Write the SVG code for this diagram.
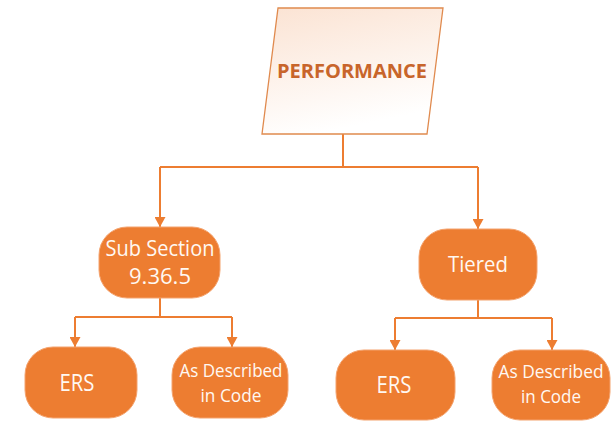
<svg xmlns="http://www.w3.org/2000/svg" width="616" height="421" viewBox="0 0 616 421">
  <style>
    .node { fill: #ED7D31; stroke: #F4A36E; stroke-width: 1; }
    .lbl { font-family: "Open Sans", "Liberation Sans", sans-serif; fill: #FFF8F2; text-anchor: middle; }
    .conn { fill: none; stroke: #ED7D31; stroke-width: 2; }
  </style>
  <defs>
    <linearGradient id="paper" x1="0" y1="0" x2="0.3" y2="1">
      <stop offset="0" stop-color="#FBE3D3"/>
      <stop offset="1" stop-color="#FFFFFF"/>
    </linearGradient>
    <marker id="arrow" viewBox="0 0 10 11" refX="10" refY="5.5" markerWidth="5" markerHeight="5.5" orient="auto" markerUnits="strokeWidth">
      <path d="M0,0 L10,5.5 L0,11 z" fill="#ED7D31"/>
    </marker>
  </defs>
  <rect width="616" height="421" fill="#FFFFFF"/>

  <g id="connectors">
    <path class="conn" d="M343,134 V167 M160,167 H478"/>
    <path class="conn" d="M160,167 V227" marker-end="url(#arrow)"/>
    <path class="conn" d="M478,167 V229" marker-end="url(#arrow)"/>
    <path class="conn" d="M160,298 V317 M75,317 H232"/>
    <path class="conn" d="M75,317 V347" marker-end="url(#arrow)"/>
    <path class="conn" d="M232,317 V347" marker-end="url(#arrow)"/>
    <path class="conn" d="M478,300 V318 M395,318 H552"/>
    <path class="conn" d="M395,318 V350" marker-end="url(#arrow)"/>
    <path class="conn" d="M552,318 V350" marker-end="url(#arrow)"/>
  </g>

  <g id="performance">
    <polygon points="278,8 443,8 427,134 262,134" fill="url(#paper)" stroke="#E08A4E" stroke-width="1.3"/>
    <text x="352" y="78" font-family="'Open Sans', 'Liberation Sans', sans-serif" font-weight="bold" font-size="20" fill="#C8652B" text-anchor="middle" textLength="150" lengthAdjust="spacingAndGlyphs">PERFORMANCE</text>
  </g>

  <g id="subsection">
    <rect class="node" x="99" y="227" width="121" height="71" rx="28"/>
    <text class="lbl" x="160" y="256" font-size="21" textLength="109" lengthAdjust="spacingAndGlyphs">Sub Section</text>
    <text class="lbl" x="160" y="284" font-size="21" textLength="62" lengthAdjust="spacingAndGlyphs">9.36.5</text>
  </g>

  <g id="tiered">
    <rect class="node" x="419" y="229" width="118" height="71" rx="28"/>
    <text class="lbl" x="478" y="272" font-size="22" textLength="60" lengthAdjust="spacingAndGlyphs">Tiered</text>
  </g>

  <g id="ers-left">
    <rect class="node" x="25" y="347" width="112" height="71" rx="28"/>
    <text class="lbl" x="77" y="391" font-size="23" textLength="35" lengthAdjust="spacingAndGlyphs">ERS</text>
  </g>

  <g id="code-left">
    <rect class="node" x="172" y="347" width="116" height="71" rx="28"/>
    <text class="lbl" x="231" y="377" font-size="18" textLength="103" lengthAdjust="spacingAndGlyphs">As Described</text>
    <text class="lbl" x="231" y="402" font-size="18" textLength="61" lengthAdjust="spacingAndGlyphs">in Code</text>
  </g>

  <g id="ers-right">
    <rect class="node" x="336" y="350" width="119" height="70" rx="28"/>
    <text class="lbl" x="394" y="393" font-size="23" textLength="35" lengthAdjust="spacingAndGlyphs">ERS</text>
  </g>

  <g id="code-right">
    <rect class="node" x="492" y="350" width="118" height="70" rx="28"/>
    <text class="lbl" x="551" y="378" font-size="18" textLength="105" lengthAdjust="spacingAndGlyphs">As Described</text>
    <text class="lbl" x="551" y="403" font-size="18" textLength="60" lengthAdjust="spacingAndGlyphs">in Code</text>
  </g>
</svg>
